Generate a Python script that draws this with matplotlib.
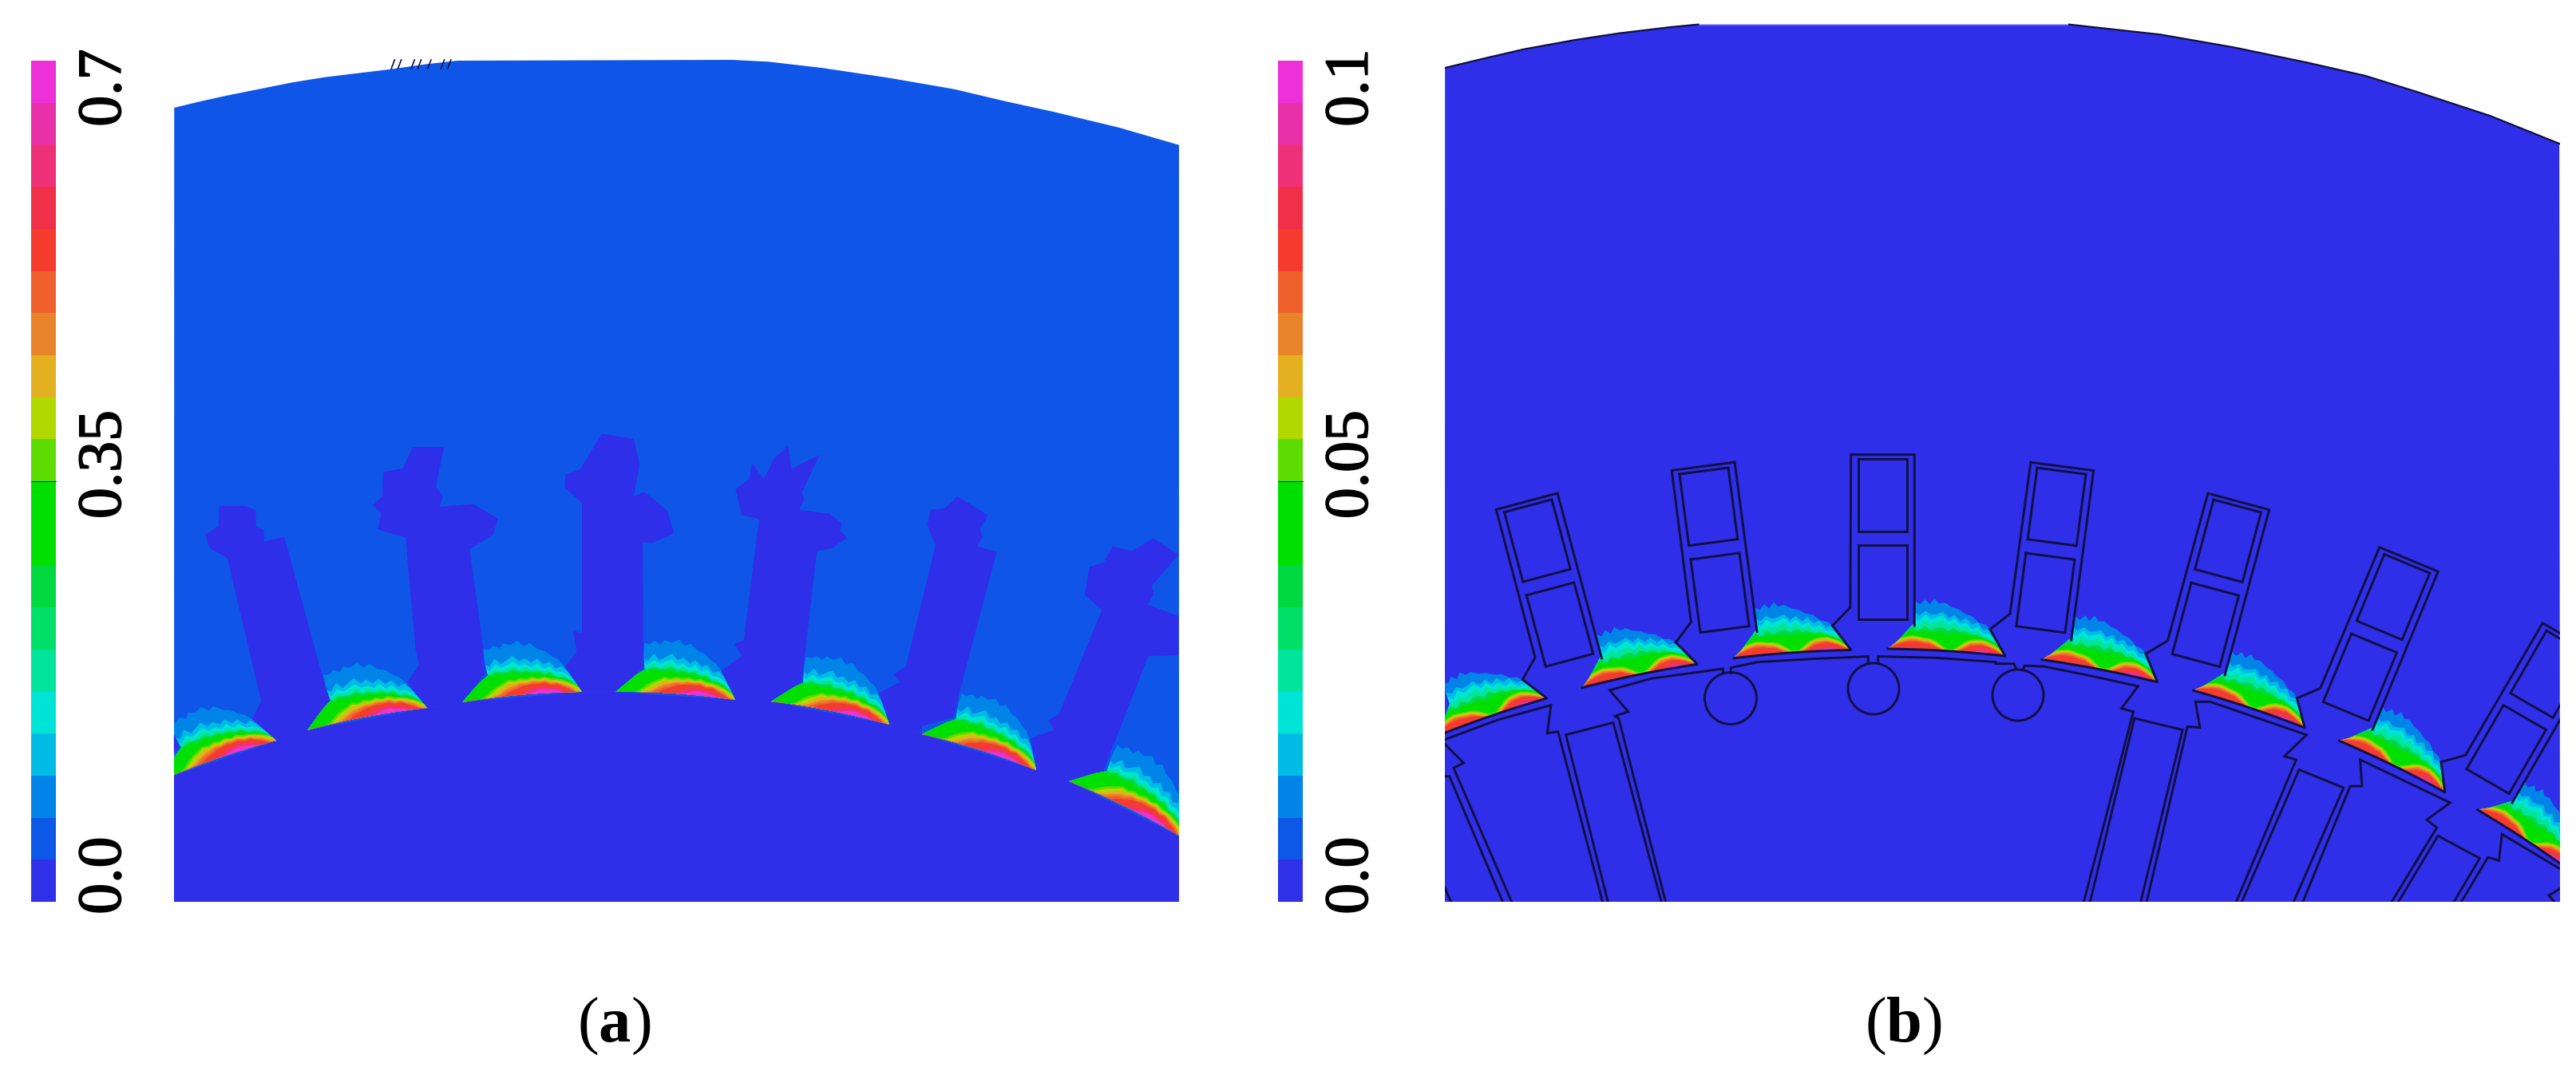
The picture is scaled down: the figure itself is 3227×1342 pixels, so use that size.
import numpy as np
from matplotlib import pyplot as plt
from matplotlib import patheffects
from matplotlib.patches import Polygon, Circle
from matplotlib.transforms import Bbox, TransformedBbox

plt.rcParams['font.family'] = ['Liberation Serif', 'DejaVu Serif']
plt.rcParams['mathtext.fontset'] = 'custom'
plt.rcParams['mathtext.rm'] = 'Liberation Serif'
plt.rcParams['mathtext.bf'] = 'Liberation Serif:bold'

# Colour scale, bottom to top
band_colors = ['#3030e8', '#0e58e8', '#0084e8', '#00bce4', '#00e4d8', '#00e49c', '#00e068', '#00d840',
               '#00e000', '#00e000', '#5cdc00', '#b2d800', '#e2b020', '#ea842a', '#f0602d', '#f53a2e',
               '#f03048', '#ee3078', '#e830a8', '#ee30d8']
ticks_a = ['0.0', '0.35', '0.7']
ticks_b = ['0.0', '0.05', '0.1']
light_blue = '#0f55e8'
dark_blue = '#2f2ee8'
line_color = '#101040'

# Panel (a): outlines
top_a_crop6 = [(22, 285), (60, 262), (100, 240), (150, 215), (200, 190), (250, 170), (300, 155), (350, 140), (400, 122), (450, 108),
               (865, 105), (920, 112), (1000, 135), (1100, 172), (1200, 215), (1280, 262), (1350, 300), (1450, 360), (1540, 425)]
stray_marks_crop6 = [355, 365, 385, 395, 410, 430, 440]
rotor_a = [(218, 972), (346, 928), (385, 915), (535, 887), (579, 880), (729, 867), (771, 867), (921, 877),
           (966, 879), (1114, 908), (1155, 920), (1298, 965), (1339, 979), (1477, 1048)]
teeth_crop2 = [
    [(40, 1262), (55, 1310), (40, 1330)],
    [(255, 1215), (285, 1135), (275, 1080), (190, 598), (140, 560), (128, 510), (165, 478), (168, 402), (240, 402), (270, 418),
     (270, 480), (292, 492), (293, 535), (350, 518), (385, 690), (450, 1010), (470, 1090), (480, 1135), (415, 1245), (330, 1285)],
    [(695, 1065), (728, 1000), (718, 938), (690, 520), (612, 490), (622, 430), (598, 398), (625, 365), (627, 275), (683, 260),
     (710, 180), (798, 180), (775, 330), (795, 365), (785, 405), (880, 395), (950, 450), (935, 510), (870, 565), (905, 905),
     (915, 1030), (848, 1140), (750, 1160)],
    [(1135, 1010), (1170, 950), (1160, 870), (1185, 880), (1185, 390), (1138, 335), (1138, 285), (1180, 265), (1240, 130),
     (1330, 150), (1347, 245), (1330, 365), (1360, 350), (1380, 370), (1425, 420), (1443, 505), (1385, 540), (1355, 540),
     (1358, 1010), (1280, 1100), (1185, 1100)],
]
teeth_crop3 = [
    [(232, 890), (290, 840), (268, 800), (295, 790), (338, 392), (290, 380), (272, 295), (310, 262), (318, 210), (352, 262),
     (380, 195), (420, 152), (428, 228), (508, 183), (458, 305), (465, 330), (450, 362), (535, 375), (570, 405), (565, 430),
     (585, 453), (545, 487), (500, 497), (458, 925), (372, 995), (270, 995)],
    [(668, 965), (735, 925), (715, 900), (750, 875), (833, 480), (810, 410), (820, 362), (858, 358), (895, 318), (980, 380),
     (958, 425), (965, 450), (950, 482), (1005, 500), (900, 960), (885, 1040), (795, 1070), (795, 1095), (703, 1065)],
    [(1100, 1110), (1165, 1082), (1150, 1050), (1180, 1030), (1300, 690), (1252, 640), (1265, 548), (1305, 535), (1330, 482),
     (1385, 497), (1445, 455), (1515, 510), (1440, 610), (1445, 640), (1428, 672), (1515, 710), (1515, 838), (1430, 840),
     (1305, 1215), (1207, 1250), (1115, 1215)],
]
shoes_a = [((204, 977), (346, 928)), ((385, 915), (535, 887)), ((579, 880), (729, 867)), ((771, 867), (921, 877)),
           ((966, 879), (1114, 908)), ((1155, 920), (1298, 965)), ((1339, 979), (1482, 1050))]

# Contour bands of one shoe: height above the chord at each position along it
shoe_u = [0, .05, .1, .15, .2, .25, .3, .35, .4, .45, .5, .55, .6, .65, .7, .75, .8, .85, .9, .95, 1]
outer_a = [(0, 0), (.08, .07), (.16, .14), (.233, .19), (.213, .31), (.213, .41), (.26, .40), (.30, .43), (.35, .40), (.38, .44), (.44, .42), (.5, .45),
           (.55, .40), (.6, .425), (.66, .37), (.72, .35), (.78, .30), (.82, .28), (.864, .23), (.93, .12), (1, 0)]
levels_a = {
    '#00bce4': [.28, .28, .28, .28, .29, .26, .32, .27, .30, .33, .28, .30, .26, .29, .24, .26, .20, .22, .17, .11, .05],
    '#00e4d8': [.25, .25, .25, .25, .26, .22, .27, .24, .26, .28, .24, .25, .22, .25, .20, .22, .17, .17, .14, .09, .04],
    '#00e49c': [.23, .23, .23, .23, .23, .21, .24, .21, .23, .25, .21, .23, .20, .21, .18, .19, .15, .15, .12, .08, .03],
    '#00d840': [.21, .21, .21, .21, .21, .19, .21, .20, .20, .22, .19, .20, .18, .19, .16, .17, .13, .13, .11, .07, .03],
    '#00e000': [.20, .20, .20, .20, .19, .17, .19, .18, .18, .19, .17, .18, .17, .17, .15, .15, .12, .11, .09, .06, .03],
    '#5cdc00': [0, 0, 0, 0, .02, .06, .09, .11, .135, .125, .14, .13, .145, .125, .14, .12, .115, .105, .085, .06, .03],
    '#b2d800': [0, 0, 0, 0, 0, .035, .07, .09, .12, .11, .125, .115, .13, .115, .125, .105, .105, .09, .075, .05, .02],
    '#e2b020': [0, 0, 0, 0, 0, .01, .035, .07, .10, .095, .115, .10, .12, .105, .115, .095, .095, .08, .06, .03, 0],
    '#ea842a': [0, 0, 0, 0, 0, 0, .015, .045, .07, .08, .095, .095, .105, .10, .105, .085, .085, .065, .05, .015, 0],
    '#f0602d': [0, 0, 0, 0, 0, 0, 0, .025, .05, .06, .085, .08, .095, .09, .095, .075, .08, .055, .035, 0, 0],
    '#f53a2e': [0, 0, 0, 0, 0, 0, 0, 0, .03, .045, .065, .075, .08, .08, .085, .065, .07, .045, .025, 0, 0],
    '#ee3078': [0, 0, 0, 0, 0, 0, 0, 0, 0, 0, .01, .03, .045, .05, .055, .04, .04, .015, 0, 0, 0],
    '#ee30d8': [0, 0, 0, 0, 0, 0, 0, 0, 0, 0, 0, 0, .015, .03, .035, .025, .02, 0, 0, 0, 0],
}

# Panel (b)
top_b_crop7 = [(22, 225), (75, 190), (130, 155), (200, 120), (260, 95), (330, 72), (368, 62),
               (875, 62), (1000, 100), (1100, 148), (1200, 205), (1280, 255), (1350, 315), (1450, 405), (1545, 510)]
outer_b = [(0, 0), (.07, .06), (.204, .216), (.203, .30), (.203, .413), (.25, .385), (.29, .43), (.33, .39), (.37, .44), (.41, .40),
           (.46, .41), (.52, .375), (.58, .36), (.64, .325), (.70, .31), (.76, .26), (.82, .245), (.856, .213), (.93, .10), (1, 0)]
levels_b = {
    '#00bce4': [.10, .20, .27, .30, .32, .29, .33, .30, .31, .33, .28, .31, .26, .29, .24, .26, .20, .21, .16, .10, .03],
    '#00e4d8': [.08, .17, .24, .26, .28, .24, .30, .26, .28, .30, .25, .28, .23, .25, .20, .22, .17, .17, .14, .09, .03],
    '#00e49c': [.06, .14, .20, .22, .23, .21, .25, .22, .24, .26, .21, .25, .20, .22, .18, .19, .15, .14, .12, .08, .02],
    '#00d840': [.04, .10, .14, .17, .19, .16, .20, .17, .19, .20, .17, .20, .17, .18, .15, .16, .13, .12, .10, .07, .02],
    '#00e000': [.03, .08, .11, .14, .16, .15, .16, .16, .15, .15, .14, .15, .16, .15, .15, .14, .14, .12, .10, .06, .01],
    '#5cdc00': [.025, .065, .095, .11, .12, .115, .105, .10, .085, .05, .02, .02, .05, .09, .11, .12, .12, .105, .085, .055, .01],
    '#b2d800': [.02, .055, .085, .10, .11, .105, .095, .09, .07, .04, 0, 0, .04, .075, .10, .105, .11, .095, .075, .045, .005],
    '#e2b020': [.015, .05, .075, .09, .10, .095, .085, .08, .055, .03, 0, 0, .03, .06, .09, .095, .10, .085, .065, .035, 0],
    '#ea842a': [.01, .04, .065, .08, .09, .085, .075, .07, .045, .02, 0, 0, .02, .05, .08, .085, .09, .075, .055, .03, 0],
    '#f0602d': [.005, .035, .055, .07, .08, .075, .065, .06, .035, .015, 0, 0, .01, .04, .07, .075, .08, .065, .05, .025, 0],
    '#f53a2e': [0, .03, .045, .06, .065, .065, .055, .05, .03, .01, 0, 0, 0, .03, .055, .065, .07, .06, .04, .02, 0],
    '#ee3078': [0, 0, 0, 0, 0, 0, 0, 0, 0, 0, 0, 0, 0, 0, .015, .03, .035, .03, .015, 0, 0],
    '#ee30d8': [0, 0, 0, 0, 0, 0, 0, 0, 0, 0, 0, 0, 0, 0, 0, .012, .02, .015, 0, 0, 0],
}
# Stator slot, drawn once for the middle slot and turned about the machine centre
machine_center = (2358, 2292)
slot_pitch = 7.5
base_shoe_b = ((2365, 813), (2512, 822))
slot_lines = [
    [(1110, 685), (1160, 630), (1162, 168), (1340, 168), (1340, 685)],
    [(1182, 182), (1320, 182), (1320, 400), (1182, 400), (1182, 182)],
    [(1182, 442), (1320, 442), (1320, 665), (1182, 665), (1182, 442)],
]
# Rotor lines, left part then right part
rotor_lines_crop4 = [
    [(20, 1030), (170, 970), (320, 925), (310, 1010), (340, 1005), (465, 1520)],
    [(362, 1015), (495, 978), (630, 1520)],
    [(362, 1015), (480, 1520)],
    [(642, 1520), (510, 965), (500, 958), (537, 945), (485, 880), (600, 845), (803, 815), (803, 828)],
    [(825, 828), (825, 812), (900, 795), (1060, 785), (1210, 778), (1210, 798)],
    [(1238, 798), (1238, 778), (1400, 782), (1568, 795)],
    [(20, 1040), (75, 1100), (47, 1115), (210, 1520)],
    [(20, 1140), (35, 1140), (185, 1520)],
    [(15, 1460), (40, 1520)],
]
rotor_lines_crop5 = [
    [(0, 800), (50, 800), (55, 815)],
    [(75, 815), (78, 806), (130, 808), (250, 835), (385, 868), (340, 935), (372, 945), (238, 1520)],
    [(255, 1520), (375, 965), (505, 1000), (392, 1520)],
    [(408, 1520), (518, 990), (552, 993), (540, 915), (580, 915), (840, 1015), (780, 1080), (812, 1090), (650, 1520)],
    [(665, 1520), (820, 1120), (940, 1175), (805, 1520)],
    [(830, 1520), (958, 1170), (990, 1170), (985, 1090), (1228, 1220), (1165, 1272), (1192, 1295), (1070, 1520)],
    [(1088, 1520), (1195, 1320), (1308, 1388), (1238, 1520)],
    [(1258, 1520), (1330, 1385), (1360, 1395), (1368, 1315), (1525, 1420)],
    [(1495, 1500), (1525, 1480)],
    [(1495, 1500), (1510, 1520)],
]
rotor_circles = [(2168, 875, 32.5), (2347, 863, 32), (2528, 871, 32)]


# Перевод координат из увеличенного фрагмента в пиксели рисунка
def crop(pts, x0, y0, sx, sy):
    return [(x0 + x / sx, y0 + y / sy) for x, y in pts]

crop2 = lambda pts: crop(pts, 200, 500, 2.24, 3)
crop3 = lambda pts: crop(pts, 800, 500, 2.24, 2.61)
crop4 = lambda pts: crop(pts, 1800, 500, 2.24, 2.412)
crop5 = lambda pts: crop(pts, 2500, 500, 2.157, 2.412)
crop6 = lambda pts: crop(pts, 200, 40, 1.206, 3)
crop7 = lambda pts: crop(pts, 1790, 10, 1.091, 3)


def turn(pts, k):
    a = np.radians(k * slot_pitch)
    cx, cy = machine_center
    out = []
    for x, y in pts:
        dx, dy = x - cx, y - cy
        out.append((cx + dx * np.cos(a) - dy * np.sin(a), cy + dx * np.sin(a) + dy * np.cos(a)))
    return out


def panel_clip(ax, panel):
    return TransformedBbox(Bbox(panel), ax.transData)


def draw_shoe(ax, L, R, outer, levels, panel, bow=0.02, edge=False):
    L, R = np.array(L, float), np.array(R, float)
    d = R - L
    n = np.array([d[1], -d[0]])

    def to_xy(pts):
        pts = np.array(pts, float)
        u, v = pts[:, 0], pts[:, 1] + bow * 4 * pts[:, 0] * (1 - pts[:, 0])
        return L + np.outer(u, d) + np.outer(v, n)

    base_u = shoe_u[::-1]
    shape = Polygon(to_xy(list(outer) + [(u, 0) for u in base_u[1:-1]]), fc=band_colors[2], ec='none', zorder=3)
    ax.add_patch(shape)
    shape.set_clip_box(panel_clip(ax, panel))
    for color, heights in levels.items():
        band = list(zip(shoe_u, heights)) + [(u, -0.03) for u in base_u]
        p = Polygon(to_xy(band), fc=color, ec='none', zorder=4)
        ax.add_patch(p)
        p.set_clip_box(panel_clip(ax, panel))
        p.set_clip_path(shape)
    if edge:
        xy = to_xy([(.856, .213), (1, 0)] + [(u, 0) for u in base_u[1:]])
        ln, = ax.plot(xy[:, 0], xy[:, 1], color=line_color, lw=2.1, zorder=5)
        ln.set_clip_box(panel_clip(ax, panel))


def draw_line(ax, pts, panel, lw=2.1):
    pts = np.array(pts)
    ln, = ax.plot(pts[:, 0], pts[:, 1], color=line_color, lw=lw, zorder=5, solid_joinstyle='miter')
    ln.set_clip_box(panel_clip(ax, panel))


def draw_scale(ax, x0, labels):
    edges = np.linspace(1130, 76, len(band_colors) + 1)
    ax.bar([x0 + 15.5] * len(band_colors), edges[1:] - edges[:-1], 31, bottom=edges[:-1], color=band_colors, zorder=2)
    ax.plot([x0, x0 + 31], [edges[10], edges[10]], color='#105010', lw=0.8, zorder=3)
    for label, y in zip(labels, [1097, 582, 110]):
        t = ax.text(x0 + 93, y, label, rotation=90, ha='center', va='center', fontsize=56, color='black')
        t.set_path_effects([patheffects.withStroke(linewidth=1.2, foreground='black')])


fig = plt.figure(figsize=(32.27, 13.42), dpi=100)
ax = fig.add_axes([0, 0, 1, 1])
ax.set_xlim(0, 3227)
ax.set_ylim(1342, 0)
ax.axis('off')

# (a)
panel_a = [(218, 60), (1477, 1130)]
ax.add_patch(Polygon(crop6(top_a_crop6) + [(1477, 1130), (218, 1130)], fc=light_blue, ec='none', zorder=1))
ax.add_patch(Polygon(rotor_a + [(1477, 1130), (218, 1130)], fc=dark_blue, ec='none', zorder=2))
for tooth in teeth_crop2:
    ax.add_patch(Polygon(crop2(tooth), fc=dark_blue, ec='none', zorder=2))
for tooth in teeth_crop3:
    ax.add_patch(Polygon(crop3(tooth), fc=dark_blue, ec='none', zorder=2))
for L, R in shoes_a:
    draw_shoe(ax, L, R, outer_a, levels_a, panel_a)
for x in stray_marks_crop6:
    draw_line(ax, crop6([(x, 105), (x - 5, 138)]), panel_a, lw=1.2)
draw_scale(ax, 39, ticks_a)

# (b)
panel_b = [(1810, 20), (3207, 1130)]
top_b = crop7(top_b_crop7)
ax.add_patch(Polygon(top_b + [(3207, 1130), (1810, 1130)], fc=dark_blue, ec='none', zorder=1))
draw_line(ax, top_b[:7], panel_b, lw=1.6)
draw_line(ax, top_b[7:], panel_b, lw=1.6)
ax.plot([top_b[6][0], top_b[7][0]], [top_b[6][1], top_b[7][1]], color='#6a6af0', lw=1, zorder=4)
for k in range(-2, 5):
    for line in slot_lines:
        draw_line(ax, turn(crop4(line), k), panel_b)
for k in range(-3, 5):
    L, R = turn(base_shoe_b, k)
    draw_shoe(ax, L, R, outer_b, levels_b, panel_b, bow=0.0125, edge=True)
for line in rotor_lines_crop4:
    draw_line(ax, crop4(line), panel_b)
for line in rotor_lines_crop5:
    draw_line(ax, crop5(line), panel_b)
for x, y, r in rotor_circles:
    c = Circle((x, y), r, fc='none', ec=line_color, lw=2.1, zorder=5)
    ax.add_patch(c)
draw_scale(ax, 1601, ticks_b)

ax.text(769, 1286, r'($\mathbf{a}$)', ha='center', va='center', fontsize=58, color='black')
ax.text(2384, 1286, r'($\mathbf{b}$)', ha='center', va='center', fontsize=58, color='black')

fig.savefig('out.png', dpi=100, facecolor='white')
